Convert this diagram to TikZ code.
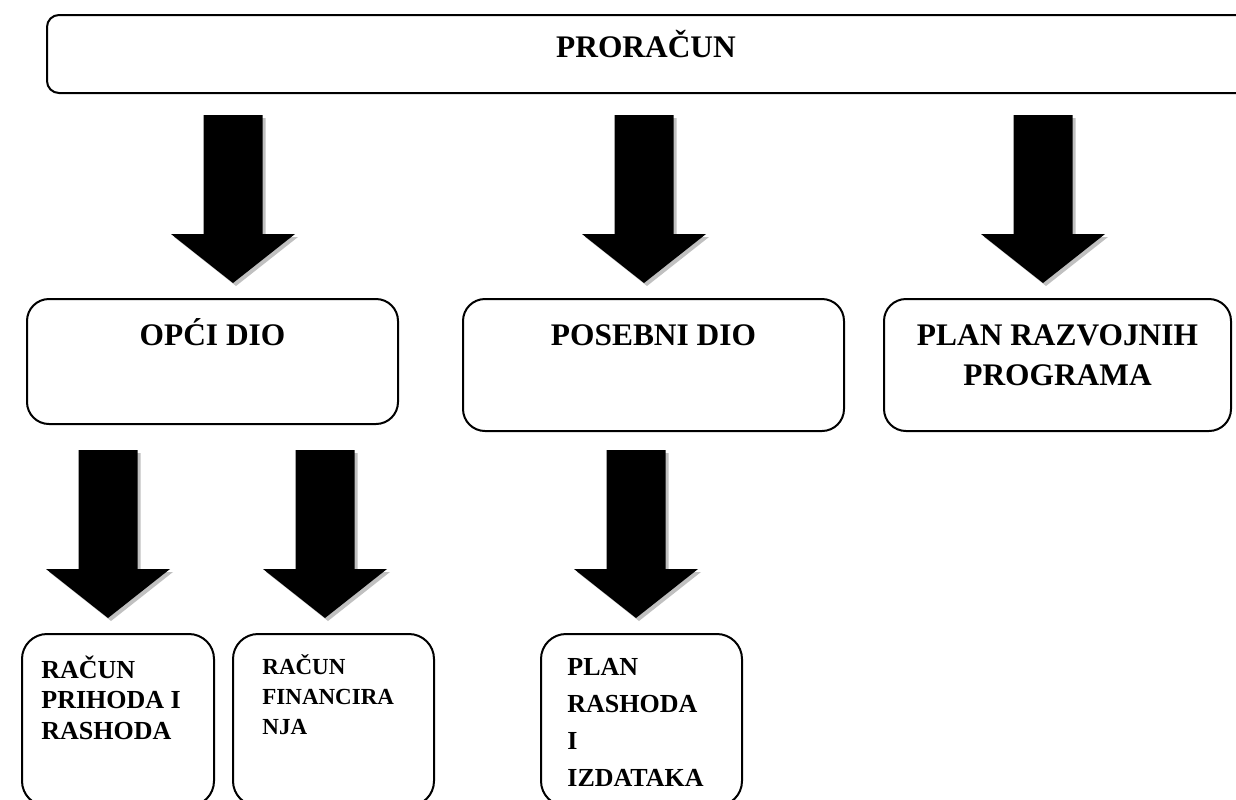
\documentclass[tikz,border=0pt]{standalone}
\usepackage{fontspec}
\setmainfont{Liberation Serif}
\usepackage{xcolor}
\usetikzlibrary{positioning,calc}
\tikzset{>=latex}
\definecolor{arrowshade}{RGB}{192,192,192}

% fat down arrow: #1 = x of the shaft, #2 = box it points at
\newcommand{\fatarrow}[2]{%
  \coordinate (tip) at ($(#1,0 |- #2.north)+(0,-15)$);
  \foreach \d/\c in {3/arrowshade, 0/black}
    \fill[\c] ($(tip)+(-29.5+\d,-168+\d)$) -- ($(tip)+(29.5+\d,-168+\d)$)
      -- ($(tip)+(29.5+\d,-49+\d)$) -- ($(tip)+(62+\d,-49+\d)$) -- ($(tip)+(\d,\d)$)
      -- ($(tip)+(-62+\d,-49+\d)$) -- ($(tip)+(-29.5+\d,-49+\d)$) -- cycle;
}

\begin{document}
\begin{tikzpicture}[x=0.5pt, y=-0.5pt]
                % boxes are placed by their top left corner, texts by the base of their last line
                \tikzstyle{box}=[draw=black, line width=1pt, inner sep=0pt, anchor=north west]
                \tikzstyle{head}=[font=\fontsize{15.7}{20}\selectfont\bfseries, inner sep=0pt, align=center, anchor=base]
                \tikzstyle{item}=[font=\fontsize{13}{15.35}\selectfont\bfseries, inner sep=0pt, align=left, anchor=base west]
                \useasboundingbox (0,0) rectangle (1236,799);
                \clip (0,0) rectangle (1236,799);

                \node[box, rounded corners=6pt, minimum width=602pt, minimum height=39pt] (proracun) at (46,14) {};
                \node[below=21.5pt of proracun.north, head, xshift=-1.5pt] (proracuntxt) {PRORAČUN};

                \node[box, rounded corners=11pt, minimum width=185.5pt, minimum height=62.5pt] (opci) at (26,298) {};
                \node[below=23.5pt of opci.north, head] (opcitxt) {OPĆI DIO};
                \node[box, rounded corners=11pt, minimum width=190.5pt, minimum height=66pt] (posebni) at (462,298) {};
                \node[below=23.5pt of posebni.north, head] (posebnitxt) {POSEBNI DIO};
                \node[box, rounded corners=11pt, minimum width=173.5pt, minimum height=66pt] (razvoj) at (883,298) {};
                \node[below=43.5pt of razvoj.north, head] (razvojtxt) {PLAN RAZVOJNIH\\PROGRAMA};

                \node[box, rounded corners=12.5pt, minimum width=96pt, minimum height=86pt] (prihodi) at (21,633) {};
                \node[below right=53.2pt and 10pt of prihodi.north west, item] (prihoditxt) {RAČUN\\PRIHODA I\\RASHODA};
                \node[box, rounded corners=12.5pt, minimum width=100.5pt, minimum height=86pt] (financ) at (232,633) {};
                \node[below right=50.5pt and 15pt of financ.north west, item, font=\fontsize{11.5}{15}\selectfont\bfseries] (financtxt) {RAČUN\\FINANCIRA\\NJA};
                \node[box, rounded corners=12.5pt, minimum width=100.5pt, minimum height=86pt] (rashodi) at (540,633) {};
                \node[below right=76.5pt and 13.5pt of rashodi.north west, item, font=\fontsize{13}{18.5}\selectfont\bfseries] (rashoditxt) {PLAN\\RASHODA\\I\\IZDATAKA};

                \fatarrow{233}{opci}
                \fatarrow{644}{posebni}
                \fatarrow{1043}{razvoj}
                \fatarrow{108}{prihodi}
                \fatarrow{325}{financ}
                \fatarrow{636}{rashodi}
        \end{tikzpicture}
\end{document}
